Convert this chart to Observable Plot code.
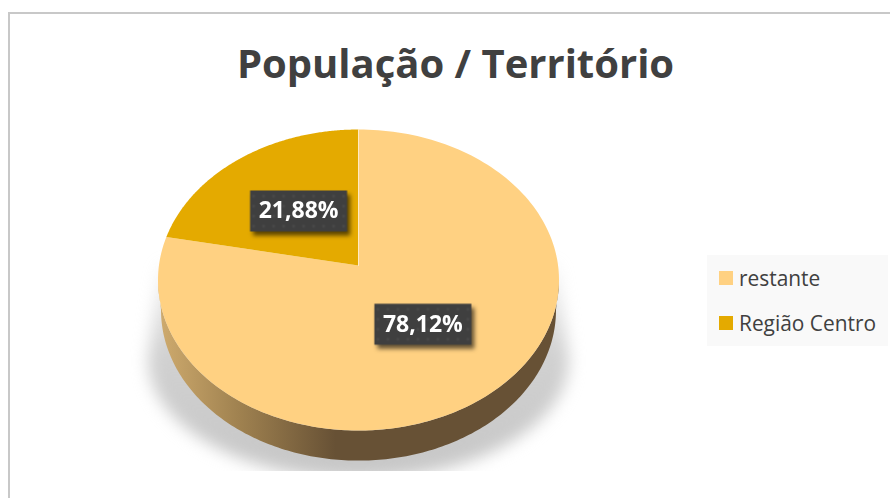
<!DOCTYPE html>
<html>
<head>
<meta charset="utf-8">
<script src="https://cdn.jsdelivr.net/npm/d3@7"></script>
<script src="https://cdn.jsdelivr.net/npm/@observablehq/plot@0.6"></script>
<style>
  html, body { margin: 0; padding: 0; background: #fff; }
  #chart { position: relative; width: 890px; height: 498px; overflow: hidden; font-family: "Open Sans", sans-serif; }
  #chart svg { position: absolute; left: 0; top: 0; }
  .edge { position: absolute; background: #c8c8c8; }
  .cut { position: absolute; background: #fff; left: 100px; top: 471px; width: 520px; height: 27px; }
  h1 { position: absolute; left: 0; width: 911px; top: 36px; margin: 0; text-align: center; font: 700 40px/54px "Open Sans", sans-serif; color: #404040; }
  #legend { position: absolute; left: 707px; top: 255px; width: 181px; height: 91px; background: #f9f9f9; color: #404040; font-size: 20.9px; }
  #legend div { position: absolute; left: 12px; display: flex; align-items: center; height: 28px; white-space: nowrap; }
  #legend i { display: block; width: 14px; height: 14px; margin-right: 6px; }
</style>
</head>
<body>
<div id="chart"></div>
<script>
const titleText = "População / Território";
const categories = ["restante", "Região Centro"];
const shares = [78.12, 21.88];
const labels = ["78,12%", "21,88%"];
const colors = ["#FFD182", "#E4AA00"];

const tilt = 0.096;      // perspective shift of the pie's centre in its ellipse
const depth = 0.2;       // wall height, in y-domain units
const project = (a, r = 1) => {
  const x = Math.sin(a) * r, y = Math.cos(a) * r, d = 1 + tilt * y;
  return [x * Math.sqrt(1 - tilt * tilt) / d, (y + tilt) / d];
};
const angles = (a0, a1) => d3.range(0, 181).map(i => a0 + (a1 - a0) * i / 180);

const arcs = d3.pie().sort(null)(shares);
const slices = arcs.flatMap((arc, i) => {
  const rim = angles(arc.startAngle, arc.endAngle).map(a => project(a));
  return [[0, tilt], ...rim].map(([x, y]) => ({x, y, category: categories[i]}));
});
const seam = [[0, tilt], project(0)].map(([x, y]) => ({x, y}));
const labelRows = arcs.map((arc, i) => {
  const [x, y] = project((arc.startAngle + arc.endAngle) / 2, 0.49);
  return {x, y, text: labels[i]};
});

const half = d3.range(0, 181).map(i => Math.PI * i / 180);
const wall = [
  ...half.map(a => ({x: -Math.cos(a), y: -Math.sin(a)})),
  ...half.map(a => ({x: Math.cos(a) * 0.985, y: -Math.sin(a) - depth}))
];
// soft shadow: slanted flanks behind the pie, rounded below it
const shadow = [
  {x: -0.99, y: 0.1},
  ...half.map(a => ({x: -Math.cos(a) * 1.05, y: -Math.sin(a) * 0.79 - 0.53})),
  {x: 0.99, y: 0.1}
];

const defs = () => {
  const d = d3.create("svg:defs");
  const wallGrad = d.append("linearGradient").attr("id", "wallGrad")
    .attr("gradientUnits", "userSpaceOnUse").attr("x1", 158).attr("x2", 335).attr("y1", 0).attr("y2", 0);
  wallGrad.append("stop").attr("offset", 0).attr("stop-color", "#CFAB6E");
  wallGrad.append("stop").attr("offset", 0.45).attr("stop-color", "#A08250");
  wallGrad.append("stop").attr("offset", 1).attr("stop-color", "#675135");
  const shadowGrad = d.append("linearGradient").attr("id", "shadowGrad").attr("x1", 0).attr("x2", 0).attr("y1", 0).attr("y2", 1);
  shadowGrad.append("stop").attr("offset", 0).attr("stop-color", "#c6c6c6").attr("stop-opacity", 0.15);
  shadowGrad.append("stop").attr("offset", 0.4).attr("stop-color", "#c6c6c6").attr("stop-opacity", 0.8);
  shadowGrad.append("stop").attr("offset", 1).attr("stop-color", "#c6c6c6").attr("stop-opacity", 1);
  const dots = d.append("pattern").attr("id", "dots").attr("patternUnits", "userSpaceOnUse")
    .attr("width", 10).attr("height", 10);
  dots.append("rect").attr("width", 10).attr("height", 10).attr("fill", "#3F3F3F");
  dots.append("circle").attr("cx", 5).attr("cy", 5).attr("r", 1.5).attr("fill", "#4A4A4A");
  return d.node();
};
const box = {draw(ctx) { ctx.rect(-48.5, -20.5, 97, 41); }};

const plot = Plot.plot({
  width: 890, height: 498,
  margin: 0,
  style: {background: "transparent"},
  x: {domain: [-1, 1], range: [157.5, 558.5], axis: null},
  y: {domain: [-1, 1], range: [430, 129], axis: null},
  color: {domain: categories, range: colors},
  marks: [
    defs,
    Plot.line(shadow, {x: "x", y: "y", fill: "url(#shadowGrad)", imageFilter: "blur(8px)"}),
    Plot.line(wall, {x: "x", y: "y", fill: "url(#wallGrad)"}),
    Plot.line(slices, {x: "x", y: "y", fill: "category"}),
    Plot.line(seam, {x: "x", y: "y", stroke: "#FFEBC4", strokeWidth: 1}),
    Plot.dot(labelRows, {x: "x", y: "y", symbol: box, fill: "url(#dots)", imageFilter: "drop-shadow(3px 4px 2px rgba(0,0,0,0.6))"}),
    Plot.text(labelRows, {x: "x", y: "y", text: "text", fill: "white", fontSize: 23, fontWeight: 700, fontFamily: "Open Sans"})
  ]
});

const root = document.getElementById("chart");
root.append(plot);
const cut = document.createElement("div");
cut.className = "cut";
root.append(cut);
const addEdge = (l, t, w, h) => {
  const e = document.createElement("div");
  e.className = "edge";
  e.style.cssText = `left:${l}px;top:${t}px;width:${w}px;height:${h}px`;
  root.append(e);
};
addEdge(8, 12, 882, 2);
addEdge(8, 12, 2, 486);
const h = document.createElement("h1");
h.textContent = titleText;
root.append(h);
const legend = document.createElement("div");
legend.id = "legend";
categories.forEach((c, i) => {
  const row = document.createElement("div");
  row.style.top = (9 + i * 45) + "px";
  const sw = document.createElement("i");
  sw.style.background = colors[i];
  row.append(sw, c);
  legend.append(row);
});
root.append(legend);
</script>
</body>
</html>
